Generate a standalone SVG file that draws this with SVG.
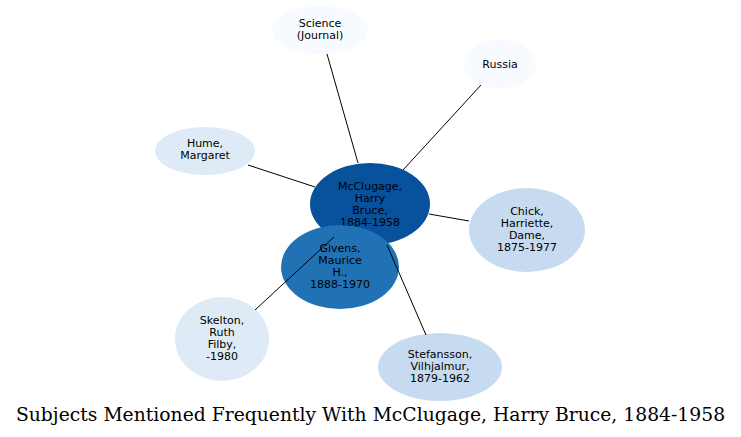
<svg xmlns="http://www.w3.org/2000/svg" width="741" height="437" viewBox="0 0 741 437">
<style>
.n text{font-family:"DejaVu Sans",sans-serif;font-size:11px;text-anchor:middle;fill:#000}
.e line{stroke:#000;stroke-width:1}
.t{font-family:"DejaVu Serif",serif;font-size:18.75px;text-anchor:middle;fill:#000}
</style>
<rect width="741" height="437" fill="#fff"/>
<g class="n" id="science"><ellipse cx="320" cy="30" rx="48" ry="24" fill="#f7fbff"/><text x="320" y="27">Science</text><text x="320" y="39">(Journal)</text></g>
<g class="n" id="russia"><ellipse cx="500" cy="64" rx="36" ry="24" fill="#f7fbff"/><text x="500" y="68">Russia</text></g>
<g class="n" id="hume"><ellipse cx="205" cy="151" rx="50" ry="24" fill="#deebf7"/><text x="205" y="147">Hume,</text><text x="205" y="159">Margaret</text></g>
<g class="n" id="chick"><ellipse cx="527" cy="230" rx="58" ry="42" fill="#c6dbef"/><text x="527" y="215">Chick,</text><text x="527" y="227">Harriette,</text><text x="527" y="239">Dame,</text><text x="527" y="251">1875-1977</text></g>
<g class="n" id="skelton"><ellipse cx="222" cy="339" rx="47" ry="42" fill="#deebf7"/><text x="222" y="324">Skelton,</text><text x="222" y="336">Ruth</text><text x="222" y="348">Filby,</text><text x="222" y="360">-1980</text></g>
<g class="n" id="stefansson"><ellipse cx="440" cy="367" rx="62" ry="34" fill="#c6dbef"/><text x="440" y="358">Stefansson,</text><text x="440" y="370">Vilhjalmur,</text><text x="440" y="382">1879-1962</text></g>
<g class="n" id="mcclugage"><ellipse cx="370" cy="204" rx="60" ry="41" fill="#08519c"/><text x="370" y="190">McClugage,</text><text x="370" y="202">Harry</text><text x="370" y="214">Bruce,</text><text x="370" y="226">1884-1958</text></g>
<g class="n" id="givens"><ellipse cx="340" cy="267" rx="59" ry="42" fill="#2171b5"/><text x="340" y="252">Givens,</text><text x="340" y="264">Maurice</text><text x="340" y="276">H.,</text><text x="340" y="288">1888-1970</text></g>
<g class="e" id="edges">
<line x1="327" y1="54" x2="358" y2="163"/>
<line x1="481" y1="85" x2="403" y2="170"/>
<line x1="248" y1="165" x2="315" y2="187"/>
<line x1="429" y1="214" x2="469" y2="221"/>
<line x1="255" y1="310" x2="334" y2="237"/>
<line x1="387" y1="245" x2="426" y2="335"/>
</g>
<text class="t" x="370.5" y="421">Subjects Mentioned Frequently With McClugage, Harry Bruce, 1884-1958</text>
</svg>
